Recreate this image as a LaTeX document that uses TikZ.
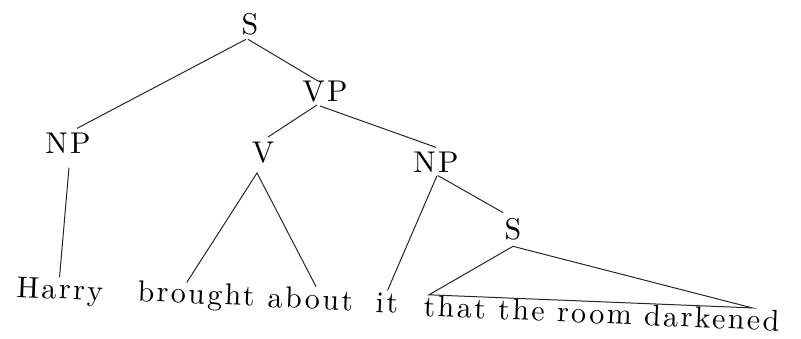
\documentclass[tikz,border=0pt]{standalone}
\usepackage{fontspec}
\newfontfamily\treefont{lmroman10-regular.otf}[LetterSpace=8]
\usetikzlibrary{calc}
\begin{document}
\begin{tikzpicture}[x=0.5pt,y=-0.5pt,
  lab/.style={font=\treefont\fontsize{15}{17}\selectfont, inner sep=1pt, text=black},
  word/.style={lab, anchor=base west, rotate=-2.4},
  edge/.style={draw=black!85, line width=0.5pt}]
\useasboundingbox (0,0) rectangle (801,338);
% category labels
\node[lab] (S)   at (250,24)  {S};
\node[lab] (VP)  at (325,92)  {VP};
\node[lab] (NP1) at (68,143)  {NP};
\node[lab] (V)   at (263,153) {V};
\node[lab] (NP2) at (436,162) {NP};
\node[lab] (S2)  at (513,229) {S};
% words
\node[word] (harry)   at (14,297)  {Harry};
\node[word] (brought) at (135,301) {brought};
\node[word] (about)   at (265,307) {about};
\node[word] (it)      at (373,312) {it};
\node[word] (that)    at (421,316) {that the room darkened};
% connectors
\draw[edge] ([shift={(-4,2)}]S.south) -- ([shift={(9,-2)}]NP1.north);
\draw[edge] ([shift={(-2,2)}]S.south) -- ([shift={(-7,2)}]VP.north);
\draw[edge] ([shift={(-8,0)}]VP.south) -- ([shift={(5,-3)}]V.north);
\draw[edge] ([shift={(-5,1)}]VP.south) -- ([shift={(0,-2)}]NP2.north);
\draw[edge] ([shift={(1,12)}]NP1.south) -- ([shift={(-1,1)}]harry.north);
\draw[edge] ([shift={(-10,2)}]brought.north) -- ([shift={(-6,7)}]V.south) -- ([shift={(5,1)}]about.north);
\draw[edge] ([shift={(1,1)}]NP2.south) -- (it.north);
\draw[edge] ([shift={(2,1)}]NP2.south) -- ([shift={(1,-3)}]S2.north west);
\draw[edge] ([shift={(7,2)}]that.north west) -- ([shift={(0,4)}]S2.south) -- ([shift={(-30,0)}]that.north east) -- cycle;
\end{tikzpicture}
\end{document}
